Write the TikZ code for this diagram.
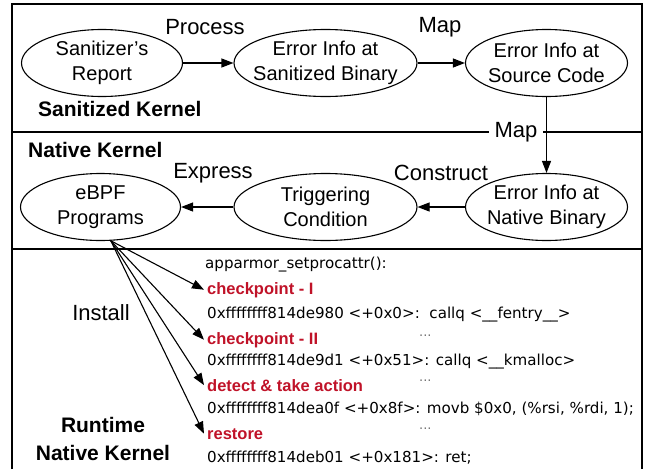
\documentclass[tikz,border=0pt]{standalone}
\usepackage{fontspec}
\setmainfont{Liberation Sans}
\newfontfamily\codefont{DejaVu Sans}
\usetikzlibrary{shapes.geometric,arrows.meta}
\definecolor{cpred}{RGB}{192,18,40}
\begin{document}
\begin{tikzpicture}[x=1pt,y=-1pt,
  ell/.style={draw, line width=1.1pt, ellipse, inner sep=-30pt, minimum height=67pt,
    align=center, font=\fontsize{20}{25}\selectfont},
  arr/.style={-{Triangle[length=12pt,width=9pt]}, line width=1.1pt},
  lbl/.style={font=\fontsize{22}{26}\selectfont, inner sep=1pt},
  sec/.style={font=\bfseries\fontsize{21}{28}\selectfont, inner sep=0pt},
  frame/.style={line width=2.4pt},
  code/.style={font=\codefont\fontsize{15.1}{18}\selectfont, anchor=base west, inner sep=0pt},
  redlbl/.style={font=\bfseries\fontsize{16.5}{18}\selectfont, text=cpred, anchor=base west, inner xsep=3pt, inner ysep=0pt},
  dotsl/.style={font=\codefont\fontsize{13}{14}\selectfont, text=black!55, anchor=base west, inner sep=0pt}]
\useasboundingbox (0,0) rectangle (647,469);
% frame
\coordinate (fbl) at (12,469);
\coordinate (ftl) at (12,4);
\coordinate (ftr) at (642,4);
\coordinate (fbr) at (642,469);
\coordinate (d1l) at (12,132);
\coordinate (d1r) at (642,132);
\coordinate (d2l) at (12,249);
\coordinate (d2r) at (642,249);
\draw[frame] (fbl) -- (ftl) -- (ftr) -- (fbr);
\draw[frame] (d1l) -- (d1r);
\draw[frame] (d2l) -- (d2r);
% top row
\node[ell, minimum width=161pt] (E1) at (102,63) {Sanitizer’s\\Report};
\node[ell, minimum width=183pt] (E2) at (325.5,63) {Error Info at\\Sanitized Binary};
\node[ell, minimum width=162pt] (E3) at (546.5,63) {Error Info at\\Source Code};
% bottom row
\node[ell, minimum width=160pt] (N1) at (100.5,207) {eBPF\\Programs};
\node[ell, minimum width=183pt] (N2) at (325.5,207) {Triggering\\Condition};
\node[ell, minimum width=162pt] (N3) at (546.5,207) {Error Info at\\Native Binary};
\draw[arr] (E1) -- (E2);
\draw[arr] (E2) -- (E3);
\draw[arr] (N3) -- (N2);
\draw[arr] (N2) -- (N1);
\node[lbl] (lp) at (205,27) {Process};
\node[lbl] (lm) at (440,27) {Map};
\node[lbl, fill=white, inner xsep=6pt] (lm2) at (516,132) {Map};
\draw[arr] (E3) -- (N3);
\node[lbl] (le) at (213,173) {Express};
\node[lbl] (lc) at (441,173) {Construct};
\node[sec, anchor=west] (sk) at (38,109) {Sanitized Kernel};
\node[sec, anchor=west] (nk) at (28,150) {Native Kernel};
% runtime
\node[sec, align=center] (rk) at (103,439) {Runtime\\Native Kernel};
\node[lbl] (li) at (101,313) {Install};
\node[code] (c0) at (205,268) {apparmor\_setprocattr():};
\node[redlbl] (k1) at (204,294) {checkpoint - I};
\node[code] (c1) at (207,318) {0xffffffff814de980 <+0x0>:\ \ callq <\_\_fentry\_\_>};
\node[dotsl] (p1) at (419,336) {...};
\node[redlbl] (k2) at (204,344) {checkpoint - II};
\node[code] (c2) at (207,365) {0xffffffff814de9d1 <+0x51>: callq <\_\_kmalloc>};
\node[dotsl] (p2) at (419,381) {...};
\node[redlbl] (k3) at (204,391) {detect \& take action};
\node[code] (c3) at (207,413) {0xffffffff814dea0f <+0x8f>: movb \$0x0, (\%rsi, \%rdi, 1);};
\node[dotsl] (p3) at (419,429) {...};
\node[redlbl] (k4) at (204,439) {restore};
\node[code] (c4) at (207,462) {0xffffffff814deb01 <+0x181>: ret;};
\draw[arr] (N1.-73) -- (k1.west);
\draw[arr] (N1.-73) -- (k2.west);
\draw[arr] (N1.-73) -- (k3.west);
\draw[arr] (N1.-73) -- (k4.west);
\end{tikzpicture}
\end{document}
